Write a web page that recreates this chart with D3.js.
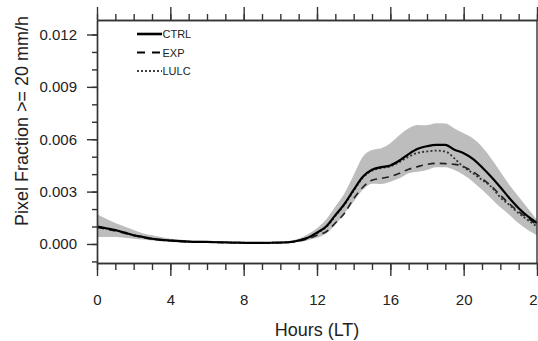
<!DOCTYPE html>
<html>
<head>
<meta charset="utf-8">
<script src="https://cdn.jsdelivr.net/npm/d3@7"></script>
<style>
  html, body { margin: 0; padding: 0; background: #fff; }
  svg { display: block; }
  text { font-family: "Liberation Sans", Arial, Helvetica, sans-serif; fill: #222; }
</style>
</head>
<body>
<svg id="chart" width="538" height="341"></svg>
<script>
const hours = [0,0.5,1,1.5,2,2.5,3,3.5,4,4.5,5,5.5,6,6.5,7,7.5,8,8.5,9,9.5,10,10.5,11,11.5,12,12.5,13,13.5,14,14.5,15,15.5,16,16.5,17,17.5,18,18.5,19,19.5,20,20.5,21,21.5,22,22.5,23,23.5,24];

const ctrl = [0.00100,0.00090,0.00080,0.00065,0.00050,0.00040,0.00030,0.00024,0.00020,0.00016,0.00013,0.00012,0.00012,0.00010,0.00009,0.00008,0.00007,0.00006,0.00006,0.00007,0.00008,0.00011,0.00020,0.00036,0.00065,0.00100,0.00165,0.00230,0.00310,0.00385,0.00425,0.00440,0.00450,0.00478,0.00515,0.00545,0.00560,0.00568,0.00568,0.00540,0.00520,0.00488,0.00440,0.00385,0.00325,0.00262,0.00205,0.00158,0.00120];

const expv = [0.00095,0.00085,0.00075,0.00062,0.00048,0.00038,0.00029,0.00023,0.00019,0.00015,0.00013,0.00011,0.00011,0.00010,0.00008,0.00007,0.00006,0.00006,0.00005,0.00006,0.00008,0.00010,0.00016,0.00030,0.00050,0.00070,0.00120,0.00176,0.00260,0.00325,0.00365,0.00376,0.00386,0.00405,0.00428,0.00443,0.00456,0.00462,0.00460,0.00456,0.00443,0.00414,0.00376,0.00332,0.00280,0.00229,0.00185,0.00147,0.00109];

const lulc = [0.00098,0.00088,0.00078,0.00064,0.00050,0.00039,0.00030,0.00024,0.00020,0.00016,0.00013,0.00012,0.00011,0.00010,0.00009,0.00008,0.00007,0.00006,0.00006,0.00007,0.00008,0.00011,0.00020,0.00035,0.00062,0.00097,0.00160,0.00225,0.00305,0.00380,0.00420,0.00435,0.00445,0.00470,0.00500,0.00522,0.00530,0.00535,0.00530,0.00490,0.00440,0.00405,0.00367,0.00328,0.00267,0.00223,0.00176,0.00137,0.00100];

const bandLow = [0.00040,0.00040,0.00040,0.00035,0.00030,0.00025,0.00020,0.00015,0.00012,0.00010,0.00008,0.00007,0.00007,0.00006,0.00005,0.00004,0.00003,0.00003,0.00003,0.00003,0.00004,0.00006,0.00012,0.00022,0.00035,0.00060,0.00110,0.00176,0.00242,0.00310,0.00345,0.00344,0.00357,0.00376,0.00405,0.00414,0.00424,0.00440,0.00440,0.00424,0.00395,0.00357,0.00310,0.00260,0.00210,0.00166,0.00118,0.00080,0.00050];

const bandHigh = [0.00170,0.00145,0.00120,0.00100,0.00080,0.00062,0.00050,0.00040,0.00030,0.00025,0.00020,0.00018,0.00017,0.00015,0.00013,0.00012,0.00011,0.00010,0.00010,0.00011,0.00012,0.00017,0.00030,0.00055,0.00090,0.00140,0.00214,0.00290,0.00395,0.00500,0.00538,0.00548,0.00577,0.00624,0.00663,0.00682,0.00680,0.00691,0.00690,0.00662,0.00634,0.00605,0.00557,0.00490,0.00414,0.00338,0.00270,0.00204,0.00137];

const xTicks = [0,4,8,12,16,20,24];
const xTickLabels = ["0","4","8","12","16","20","24"];
const yTicks = [0,0.003,0.006,0.009,0.012];
const yTickLabels = ["0.000","0.003","0.006","0.009","0.012"];
const seriesNames = ["CTRL","EXP","LULC"];

const svg = d3.select("#chart");
const L = 97, R = 537, T = 20, B = 263;
const x = d3.scaleLinear().domain([0,24]).range([L,R]);
const y = d3.scaleLinear().domain([-0.00109,0.01283]).range([B,T]);

// band
const area = d3.area()
  .x((d,i) => x(hours[i]))
  .y0((d,i) => y(bandLow[i]))
  .y1((d,i) => y(bandHigh[i]))
  .curve(d3.curveMonotoneX);
svg.append("path").datum(hours).attr("d", area).attr("fill", "#bdbdbd");

const lineOf = arr => d3.line()
  .x((d,i) => x(hours[i]))
  .y((d,i) => y(arr[i]))
  .curve(d3.curveMonotoneX)(hours);

svg.append("path").attr("d", lineOf(expv)).attr("fill","none").attr("stroke","#222")
  .attr("stroke-width",1.6).attr("stroke-dasharray","7,5");
svg.append("path").attr("d", lineOf(lulc)).attr("fill","none").attr("stroke","#333")
  .attr("stroke-width",1.8).attr("stroke-dasharray","2,2.2");
svg.append("path").attr("d", lineOf(ctrl)).attr("fill","none").attr("stroke","#000")
  .attr("stroke-width",2.2);

// axes
const minorX = d3.range(0,25,1);
const minorY = d3.range(-1,13,1).map(v => v/1000);

function styleAxis(g){
  g.selectAll("path,line").attr("stroke","#333").attr("stroke-width",1.4);
  g.selectAll("text").attr("font-size","15px").attr("fill","#222")
    .attr("font-family","Liberation Sans, Arial, sans-serif");
}

// bottom minor
svg.append("g").attr("transform",`translate(0,${B})`)
  .call(d3.axisBottom(x).tickValues(minorX).tickSize(7).tickSizeOuter(0).tickFormat(""))
  .call(styleAxis);
// bottom major
const gb = svg.append("g").attr("transform",`translate(0,${B})`)
  .call(d3.axisBottom(x).tickValues(xTicks).tickSize(13).tickSizeOuter(0).tickPadding(18)
    .tickFormat((d,i) => xTickLabels[i]))
  .call(styleAxis);

// top minor & major (outward)
svg.append("g").attr("transform",`translate(0,${T})`)
  .call(d3.axisTop(x).tickValues(minorX).tickSize(6).tickSizeOuter(0).tickFormat(""))
  .call(styleAxis);
svg.append("g").attr("transform",`translate(0,${T})`)
  .call(d3.axisTop(x).tickValues(xTicks).tickSize(13).tickSizeOuter(0).tickFormat(""))
  .call(styleAxis);

// left minor & major
svg.append("g").attr("transform",`translate(${L},0)`)
  .call(d3.axisLeft(y).tickValues(minorY).tickSize(5).tickSizeOuter(0).tickFormat(""))
  .call(styleAxis);
svg.append("g").attr("transform",`translate(${L},0)`)
  .call(d3.axisLeft(y).tickValues(yTicks).tickSize(10).tickSizeOuter(0).tickPadding(10)
    .tickFormat((d,i) => yTickLabels[i]))
  .call(styleAxis);

// right axis line
svg.append("line").attr("x1",R).attr("x2",R).attr("y1",T).attr("y2",B)
  .attr("stroke","#333").attr("stroke-width",1.4);

// titles
svg.append("text").attr("x",317).attr("y",336).attr("text-anchor","middle")
  .attr("font-size","18px").text("Hours (LT)");
svg.append("text").attr("transform","translate(28,121) rotate(-90)")
  .attr("text-anchor","middle").attr("font-size","18px").text("Pixel Fraction >= 20 mm/h");

// legend
const legY = [34, 52.5, 71];
const legStyles = [
  {w:2.6, dash:null},
  {w:1.8, dash:"8,7"},
  {w:1.6, dash:"2,2"}
];
seriesNames.forEach((n,i) => {
  const ln = svg.append("line").attr("x1",137).attr("x2",162).attr("y1",legY[i]).attr("y2",legY[i])
    .attr("stroke","#000").attr("stroke-width",legStyles[i].w);
  if (legStyles[i].dash) ln.attr("stroke-dasharray", legStyles[i].dash);
  svg.append("text").attr("x",162.5).attr("y",legY[i]+4).attr("font-size","11px").text(n);
});
</script>
</body>
</html>
